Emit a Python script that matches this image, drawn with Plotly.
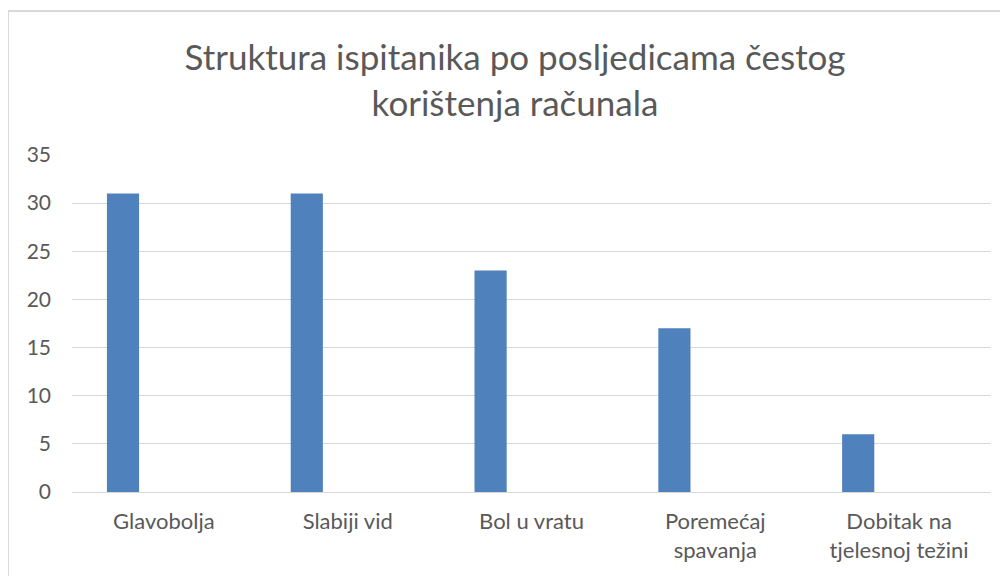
import plotly.graph_objects as go

categories = ["Glavobolja", "Slabiji vid", "Bol u vratu", "Poremećaj<br>spavanja", "Dobitak na<br>tjelesnoj težini"]
values = [31, 31, 23, 17, 6]
y_ticks = [0, 5, 10, 15, 20, 25, 30, 35]
title = "Struktura ispitanika po posljedicama čestog<br>korištenja računala"

fig = go.Figure()
fig.add_trace(go.Bar(
    x=categories, y=values,
    marker=dict(color="#4f81bd", line=dict(width=0)),
    width=0.175, offset=-0.31,
    hoverinfo="x+y",
))

# page body has an 8px margin, so the figure is sized/offset to match
W, H = 1000, 568
L, R, T, B = 64, 17, 147, 84
pw, ph = W - L - R, H - T - B

fig.update_layout(
    width=W, height=H,
    margin=dict(l=L, r=R, t=T, b=B),
    paper_bgcolor="white", plot_bgcolor="white",
    font=dict(family="Lato, Open Sans, sans-serif", color="#595959"),
    title=dict(text=title, x=0.507, xanchor="center", y=1 - 62 / H, yanchor="middle",
               font=dict(size=35, color="#595959", family="Lato, sans-serif")),
    showlegend=False,
    xaxis=dict(showgrid=False, showline=True, linecolor="#d9d9d9", linewidth=1,
               tickfont=dict(size=22, color="#595959"), ticks="", range=[-0.5, 4.5],
               ticklabelstandoff=10),
    yaxis=dict(range=[0, 35], tickvals=y_ticks, showgrid=True, gridcolor="#d9d9d9",
               gridwidth=1, zeroline=False, showline=False, ticks="",
               tickfont=dict(size=21, color="#595959"), ticklabelstandoff=20),
    shapes=[dict(type="rect", xref="paper", yref="paper",
                 x0=(0 - L) / pw, x1=(1030 - L) / pw,
                 y0=(H - B - 620) / ph, y1=(H - B - 3) / ph,
                 line=dict(color="#d9d9d9", width=2), fillcolor="rgba(0,0,0,0)", layer="below")],
)

fig.write_html("out.html")
